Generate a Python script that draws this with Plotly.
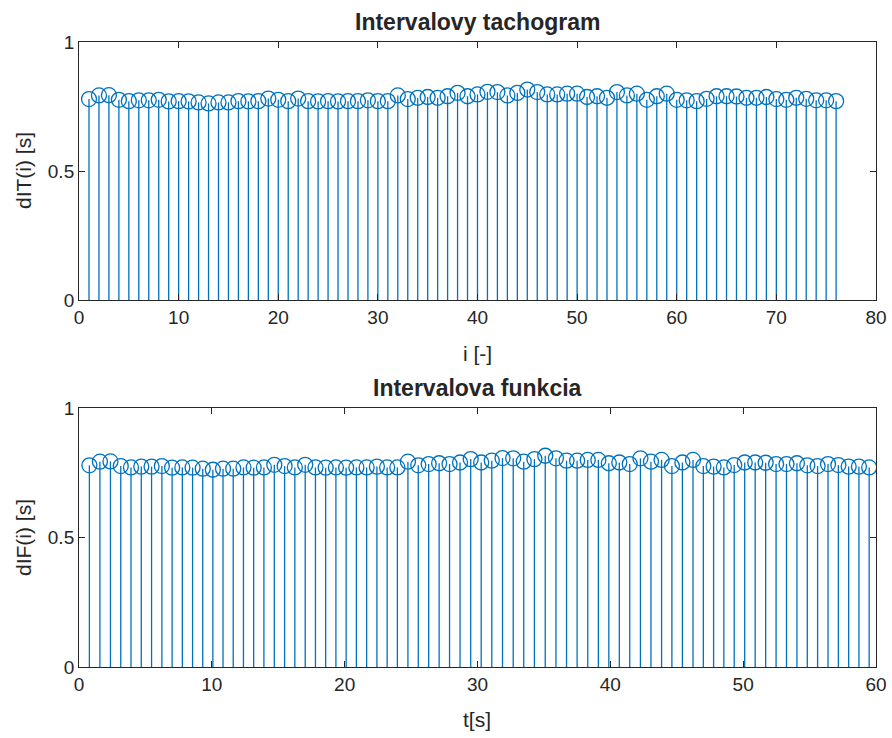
import numpy as np
import plotly.graph_objects as go

# RR intervals dT(i) [s]
dT = [0.779, 0.793, 0.794, 0.776, 0.771, 0.774, 0.774, 0.776, 0.770, 0.771,
      0.770, 0.766, 0.762, 0.766, 0.766, 0.771, 0.770, 0.771, 0.781, 0.776,
      0.771, 0.781, 0.771, 0.770, 0.771, 0.770, 0.771, 0.771, 0.774, 0.771,
      0.771, 0.793, 0.779, 0.784, 0.787, 0.784, 0.790, 0.803, 0.790, 0.797,
      0.807, 0.806, 0.793, 0.803, 0.816, 0.806, 0.797, 0.797, 0.800, 0.800,
      0.787, 0.790, 0.784, 0.806, 0.793, 0.800, 0.776, 0.790, 0.800, 0.776,
      0.774, 0.771, 0.780, 0.790, 0.790, 0.789, 0.784, 0.784, 0.787, 0.779,
      0.776, 0.784, 0.780, 0.774, 0.774, 0.771]

idx = np.arange(1, len(dT) + 1)
t = np.cumsum(dT)          # time of each beat [s]

BLUE = "#0072BD"
FONT = "Liberation Sans, Arial, sans-serif"


def stem(fig, x, y, xa, ya):
    # vertical stems from 0 to value, then open circles on top
    sx, sy = [], []
    for a, b in zip(x, y):
        sx += [a, a, None]
        sy += [0, b, None]
    fig.add_trace(go.Scatter(x=sx, y=sy, mode="lines", xaxis=xa, yaxis=ya,
                             line=dict(color=BLUE, width=1.3),
                             hoverinfo="skip", showlegend=False))
    fig.add_trace(go.Scatter(x=x, y=y, mode="markers", xaxis=xa, yaxis=ya,
                             marker=dict(symbol="circle-open", size=15,
                                         color=BLUE, line=dict(width=1.3)),
                             showlegend=False))


fig = go.Figure()
stem(fig, idx, dT, "x", "y")
stem(fig, t, dT, "x2", "y2")

axis_common = dict(showline=True, linecolor="#262626", linewidth=1,
                   mirror="ticks", ticks="inside", ticklen=6,
                   tickcolor="#262626", showgrid=False, zeroline=False,
                   automargin=False,
                   tickfont=dict(size=19, color="#262626", family=FONT))

fig.update_layout(
    width=892, height=738,
    margin=dict(l=0, r=0, t=0, b=0),
    paper_bgcolor="white", plot_bgcolor="white",
    font=dict(family=FONT, color="#262626"),
    xaxis=dict(domain=[0.0886, 0.982], anchor="y", range=[0, 80],
               tickvals=list(range(0, 81, 10)), **axis_common),
    yaxis=dict(domain=[0.5935, 0.943], anchor="x", range=[0, 1],
               tickvals=[0, 0.5, 1], ticktext=["0", "0.5", "1"], **axis_common),
    xaxis2=dict(domain=[0.0886, 0.982], anchor="y2", range=[0, 60],
                tickvals=list(range(0, 61, 10)), **axis_common),
    yaxis2=dict(domain=[0.0962, 0.447], anchor="x2", range=[0, 1],
                tickvals=[0, 0.5, 1], ticktext=["0", "0.5", "1"], **axis_common),
)

ann = [
    dict(text="<b>Intervalovy tachogram</b>", x=0.535, y=1 - 22 / 738, size=23),
    dict(text="<b>Intervalova funkcia</b>", x=0.535, y=1 - 388 / 738, size=23),
    dict(text="i [-]", x=0.535, y=1 - 353 / 738, size=21),
    dict(text="t[s]", x=0.535, y=1 - 719 / 738, size=21),
]
for a in ann:
    fig.add_annotation(text=a["text"], x=a["x"], y=a["y"], xref="paper",
                       yref="paper", showarrow=False, xanchor="center",
                       yanchor="middle", font=dict(size=a["size"], family=FONT,
                                                   color="#262626"))
for txt, yc in [("dIT(i) [s]", 171), ("dIF(i) [s]", 538)]:
    fig.add_annotation(text=txt, x=23 / 892, y=1 - yc / 738, xref="paper",
                       yref="paper", showarrow=False, textangle=-90,
                       xanchor="center", yanchor="middle",
                       font=dict(size=21, family=FONT, color="#262626"))

# drop the default page margin so the figure sits at the window's corner
fig.write_html("out.html", config={"displayModeBar": False},
               post_script="document.body.style.margin='0';"
                           "document.body.style.overflow='hidden';")
